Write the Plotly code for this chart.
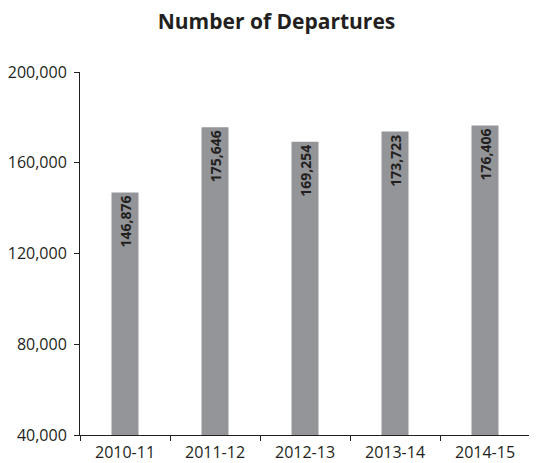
import plotly.graph_objects as go

years = ["2010-11", "2011-12", "2012-13", "2013-14", "2014-15"]
departures = [146876, 175646, 169254, 173723, 176406]
y_ticks = [40000, 80000, 120000, 160000, 200000]

fig = go.Figure(go.Bar(
    x=years,
    y=departures,
    marker=dict(color="#939598", line=dict(width=0)),
    width=0.3,
    text=[f"{v:,}" for v in departures],
    textposition="inside",
    insidetextanchor="end",
    textangle=-90,
    textfont=dict(family="Open Sans", size=14, color="#231f20", weight="bold"),
    cliponaxis=True,
))

fig.update_layout(
    width=537, height=463,
    margin=dict(l=72, r=15, t=64, b=36),
    paper_bgcolor="white", plot_bgcolor="white",
    title=dict(text="<b>Number of Departures</b>", x=0.5, xanchor="center",
               y=0.97, yanchor="middle",
               font=dict(family="Open Sans", size=21, color="#231f20")),
    showlegend=False,
    uniformtext=dict(mode=False),
)
fig.update_xaxes(
    type="category",
    showline=True, linecolor="#231f20", linewidth=1,
    ticks="outside", tickson="boundaries", ticklen=5, tickcolor="#231f20",
    tickfont=dict(family="Open Sans", size=16, color="#231f20"),
    ticklabelstandoff=3,
    showgrid=False, automargin=False,
)
fig.update_yaxes(
    range=[40000, 200000], tickvals=y_ticks, tickformat=",",
    showline=True, linecolor="#231f20", linewidth=1,
    ticks="outside", ticklen=5, tickcolor="#231f20",
    tickfont=dict(family="Open Sans", size=16, color="#231f20"),
    ticklabelstandoff=4,
    showgrid=False, zeroline=False, automargin=False,
)

fig.write_html("out.html")
